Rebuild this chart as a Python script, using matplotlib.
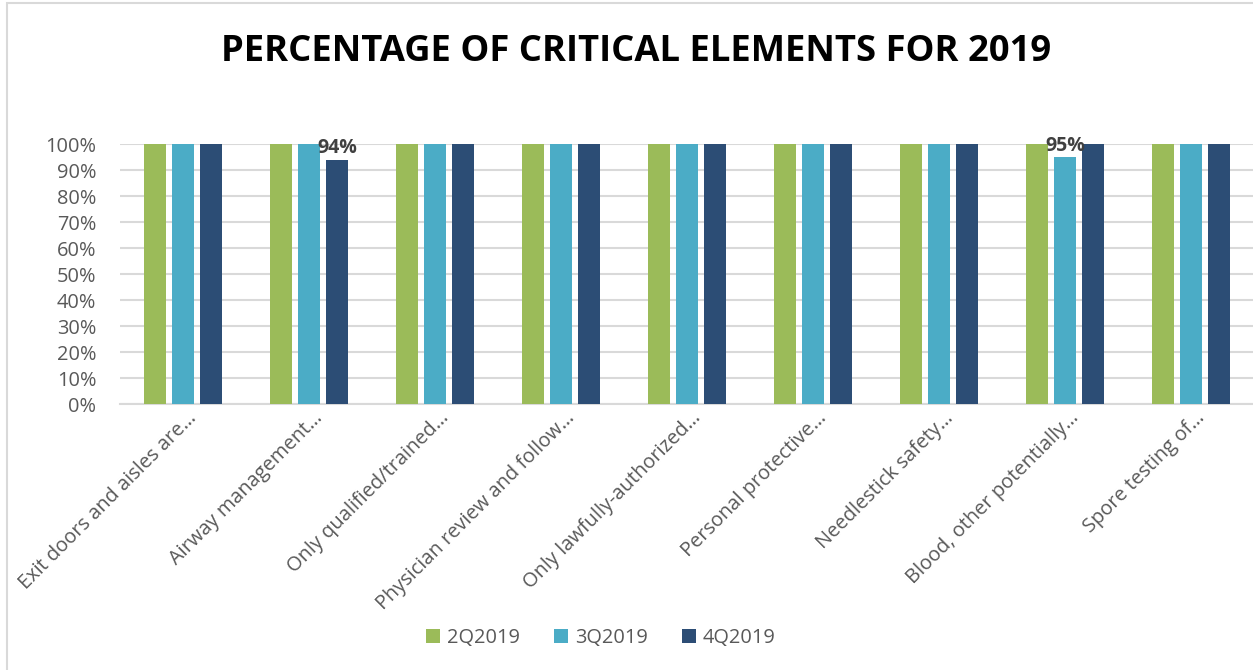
import matplotlib
matplotlib.use("Agg")
import matplotlib.pyplot as plt
import matplotlib.transforms as mtransforms
from matplotlib.patches import Rectangle
import numpy as np

categories = [
    "Exit doors and aisles are…",
    "Airway management…",
    "Only qualified/trained…",
    "Physician review and follow…",
    "Only lawfully-authorized…",
    "Personal protective…",
    "Needlestick safety…",
    "Blood, other potentially…",
    "Spore testing of…",
]
series_names = ["2Q2019", "3Q2019", "4Q2019"]
q2_2019 = [100, 100, 100, 100, 100, 100, 100, 100, 100]
q3_2019 = [100, 100, 100, 100, 100, 100, 100, 95, 100]
q4_2019 = [100, 94, 100, 100, 100, 100, 100, 100, 100]
labelled = {(1, 2), (7, 1)}  # (category index, series index) with value labels
y_ticks = [0, 10, 20, 30, 40, 50, 60, 70, 80, 90, 100]

colors = ["#9BBB59", "#4BACC6", "#2C4D75"]
text_gray = "#595959"
grid_gray = "#D9D9D9"

plt.rcParams["font.family"] = ["Open Sans", "DejaVu Sans"]

fig = plt.figure(figsize=(12.53, 6.70), dpi=100)
ax = fig.add_axes([120 / 1253, (670 - 404) / 670, 1134 / 1253, 260 / 670])

x = np.arange(len(categories))
width = 0.175
step = 0.222
all_series = [q2_2019, q3_2019, q4_2019]
for si, (vals, name, col) in enumerate(zip(all_series, series_names, colors)):
    bars = ax.bar(x + (si - 1) * step, vals, width, color=col, label=name, zorder=3)
    for ci, b in enumerate(bars):
        if (ci, si) in labelled:
            ax.annotate(f"{vals[ci]}%", (b.get_x() + b.get_width() / 2, b.get_height()),
                        xytext=(0, 1), textcoords="offset points",
                        ha="center", va="bottom", fontsize=14, fontweight="bold",
                        color="#404040", clip_on=False, zorder=5)

ax.set_xlim(-0.5, len(categories) - 0.5)
ax.set_ylim(0, 100)
ax.set_yticks(y_ticks)
ax.set_yticklabels([f"{t}%" for t in y_ticks], fontsize=14.4, color=text_gray)
ax.yaxis.grid(True, color=grid_gray, linewidth=1.5, zorder=0)
ax.set_axisbelow(True)
for s in ["top", "right", "left"]:
    ax.spines[s].set_visible(False)
ax.spines["bottom"].set_color(grid_gray)
ax.spines["bottom"].set_linewidth(1.5)
ax.tick_params(axis="y", length=0, pad=17)
ax.tick_params(axis="x", length=0)

ax.set_xticks(x)
ax.set_xticklabels(categories, rotation=45, ha="right", va="top",
                   rotation_mode="anchor", fontsize=14.4, color=text_gray)
offset = mtransforms.ScaledTranslation(4 / 100, 1 / 100, fig.dpi_scale_trans)
for lab in ax.get_xticklabels():
    lab.set_transform(lab.get_transform() + offset)

fig.text(636 / 1253, 1 - 52 / 670, "PERCENTAGE OF CRITICAL ELEMENTS FOR 2019",
         ha="center", va="center", fontsize=26.2, fontweight="bold", color="black")

leg = fig.legend(loc="center", bbox_to_anchor=(601 / 1253, 1 - 638 / 670), ncol=3,
                 frameon=False, fontsize=14.4, handlelength=0.7, handleheight=0.7,
                 columnspacing=1.7, handletextpad=0.35)
for t in leg.get_texts():
    t.set_color(text_gray)

# chart frame
fig.patches.append(Rectangle((6.5 / 1253, -0.1), 1.2, 1.1 - 3.5 / 670,
                             transform=fig.transFigure, fill=False,
                             edgecolor="#D9D9D9", linewidth=1.5))

fig.savefig("out.png", dpi=100)
